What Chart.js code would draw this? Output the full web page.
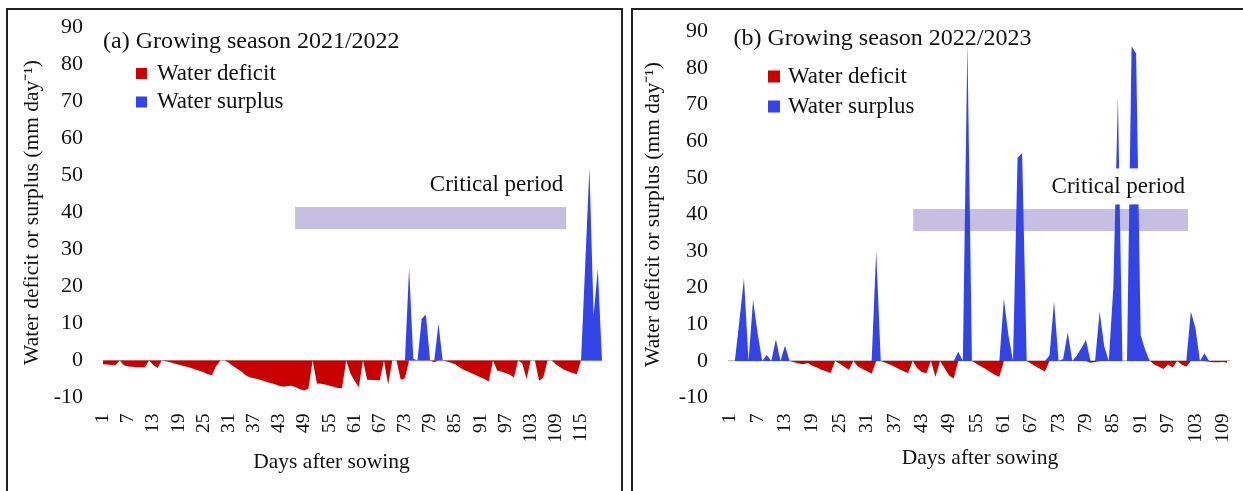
<!DOCTYPE html>
<html>
<head>
<meta charset="utf-8">
<script src="https://cdn.jsdelivr.net/npm/chart.js@4.4.0/dist/chart.umd.min.js"></script>
<style>
body { margin:0; background:#fff; width:1243px; height:491px; overflow:hidden; position:relative; }
canvas { position:absolute; top:0; }
#chartA { left:0; }
#chartB { left:630px; }
.frame { position:absolute; top:8px; height:500px; border-top:2px solid #222; border-left:2px solid #222; }
#frameA { left:6px; width:613px; border-right:2px solid #222; }
#frameB { left:631px; width:620px; }
</style>
</head>
<body>
<div class="frame" id="frameA"></div>
<div class="frame" id="frameB"></div>
<canvas id="chartA" width="622" height="491"></canvas>
<canvas id="chartB" width="613" height="491"></canvas>
<script>
// (a) 2021/2022 - daily values, day 1..120
const deficitA = [
  -1.0, -1.1, -1.2, -1.2, 0, -1.3, -1.6, -1.7, -1.8, -1.8,
  -1.8, 0, -1.2, -2.0, 0, -0.2, -0.5, -0.8, -1.1, -1.4,
  -1.7, -2.0, -2.4, -2.8, -3.2, -3.7, -3.9, -1.5, 0, 0,
  -0.6, -1.5, -2.2, -3.0, -4.0, -4.5, -4.8, -5.1, -5.4, -5.8,
  -6.1, -6.4, -6.8, -7.1, -6.9, -6.8, -7.2, -7.8, -8.1, -7.6,
  0, -6.2, -6.3, -6.5, -6.8, -7.1, -7.4, -7.4, 0, -3.5,
  -5.5, -7.2, 0, -5.2, -5.3, -5.3, -5.4, 0, -6.5, 0,
  0, -5.2, -4.8, 0, 0, 0, 0, 0, 0, -0.5,
  0, 0, -0.3, -0.6, -1.0, -1.8, -2.5, -3.0, -3.5, -4.0,
  -4.5, -5.0, -5.7, 0, -2.7, -3.0, -3.4, -3.8, -4.6, 0,
  -0.8, -5.0, 0, 0, -5.5, -4.6, 0, 0, -1.0, -1.8,
  -2.5, -3.0, -3.4, -3.7, 0, 0, 0, 0, 0, 0
];
const surplusA = [
  0, 0, 0, 0, 0, 0, 0, 0, 0, 0,
  0, 0, 0, 0, 0, 0, 0, 0, 0, 0,
  0, 0, 0, 0, 0, 0, 0, 0, 0, 0,
  0, 0, 0, 0, 0, 0, 0, 0, 0, 0,
  0, 0, 0, 0, 0, 0, 0, 0, 0, 0,
  0, 0, 0, 0, 0, 0, 0, 0, 0, 0,
  0, 0, 0, 0, 0, 0, 0, 0, 0, 0,
  0, 0, 0, 25, 0.5, 0, 11.3, 12.4, 0, 0,
  10, 0, 0, 0, 0, 0, 0, 0, 0, 0,
  0, 0, 0, 0, 0, 0, 0, 0, 0, 0,
  0, 0, 0, 0, 0, 0, 0, 0, 0, 0,
  0, 0, 0, 0, 0, 26, 52, 12.2, 24.8, 0
];

// (b) 2022/2023 - daily values, day 1..110
const deficitB = [
  0, 0, 0, 0, 0, 0, 0, 0, 0, 0,
  0, 0, 0, 0, -0.4, -0.7, -0.9, -0.6, -1.3, -1.8,
  -2.4, -2.8, -3.3, 0, -0.8, -1.6, -2.4, 0, -1.5, -2.2,
  -2.8, -3.5, 0, 0, -0.5, -1.0, -1.6, -2.2, -2.8, -3.3,
  0, -2.0, -3.0, -3.4, 0, -4.3, 0, -2.0, -4.0, -4.8,
  0, 0, 0, 0, -0.8, -1.5, -2.2, -3.0, -3.8, -4.3,
  0, 0, 0, 0, 0, 0, -0.8, -1.5, -2.2, -2.9,
  0, 0, 0, 0, 0, 0, 0, 0, 0, -0.5,
  -0.3, 0, 0, 0, 0, 0, 0, 0, 0, 0,
  0, 0, 0, -1.0, -1.6, -2.2, -1.0, -1.8, 0, -1.0,
  -1.6, 0, 0, 0, 0, -0.2, -0.4, -0.4, -0.3, -0.5
];
const surplusB = [
  0, 0, 11, 22.6, 0, 16.7, 7.5, 0, 1.6, 0,
  5.9, 0, 4.2, 0, 0, 0, 0, 0, 0, 0,
  0, 0, 0, 0, 0, 0, 0, 0, 0, 0,
  0, 0, 30, 0, 0, 0, 0, 0, 0, 0,
  0, 0, 0, 0, 0, 0, 0, 0, 0, 0,
  2.5, 0, 87, 0, 0, 0, 0, 0, 0, 0,
  17, 7, 0, 55.5, 56.8, 0, 0, 0, 0, 0,
  1.5, 16.2, 0, 0.5, 7.8, 0, 1.5, 3.5, 5.7, 0,
  0, 13.5, 4, 0, 20, 72, 0, 0, 86, 84,
  7, 3, 0, 0, 0, 0, 0, 0, 0, 0,
  0, 13.5, 9, 0, 2.1, 0, 0, 0, 0, 0
];

const tickDaysA = [1, 7, 13, 19, 25, 31, 37, 43, 49, 55, 61, 67, 73, 79, 85, 91, 97, 103, 109, 115];
const tickDaysB = [1, 7, 13, 19, 25, 31, 37, 43, 49, 55, 61, 67, 73, 79, 85, 91, 97, 103, 109];
const yTicks = [-10, 0, 10, 20, 30, 40, 50, 60, 70, 80, 90];

// critical period (days) and its band height (mm/day)
const critA = [46.8, 111.5];
const critB = [41.1, 101.4];
const critBand = [35.5, 41.5];
const critLabelY = 47.4;

const RED = '#c80000';
const BLUE = '#3344e6';
const LAVENDER = '#c6bfe2';
const SERIF = "'Liberation Serif', 'Times New Roman', serif";

Chart.defaults.font.family = SERIF;
Chart.defaults.color = '#111';

function toPoints(values) {
  return values.map((v, i) => ({ x: i + 1, y: v }));
}

function textPlugin(p) {
  return {
    id: 'panelText',
    afterDatasetsDraw(chart) {
      const ctx = chart.ctx;
      const xs = chart.scales.x, ys = chart.scales.y;
      ctx.save();
      ctx.textBaseline = 'middle';

      // critical period label with white backing box
      ctx.font = '23px ' + SERIF;
      const label = 'Critical period';
      const w = ctx.measureText(label).width;
      const cx = xs.getPixelForValue(p.crit[1]) - 3;
      const cy = ys.getPixelForValue(critLabelY);
      ctx.fillStyle = '#fff';
      ctx.fillRect(cx - w - 5, cy - 19, w + 10, 36);
      ctx.fillStyle = '#111';
      ctx.textAlign = 'right';
      ctx.fillText(label, cx, cy);

      // panel title
      ctx.textAlign = 'left';
      ctx.font = '24px ' + SERIF;
      ctx.fillText(p.title, p.titleX, p.titleY);

      // legend
      ctx.font = '23px ' + SERIF;
      [['Water deficit', RED], ['Water surplus', BLUE]].forEach((item, i) => {
        const ly = p.legendY[i];
        ctx.fillStyle = item[1];
        ctx.fillRect(p.legendX, ly - p.box / 2, p.box, p.box);
        ctx.fillStyle = '#111';
        ctx.fillText(item[0], p.legendX + p.box + p.gap, ly);
      });

      // x axis title
      ctx.textAlign = 'center';
      ctx.font = '21.5px ' + SERIF;
      ctx.fillText('Days after sowing', p.xTitleX, p.xTitleY);
      ctx.restore();
    }
  };
}

function makeChart(id, p) {
  new Chart(document.getElementById(id), {
    type: 'line',
    data: {
      datasets: [
        { label: 'Water deficit', data: toPoints(p.deficit), backgroundColor: RED, fill: 'origin' },
        { label: 'Water surplus', data: toPoints(p.surplus), backgroundColor: BLUE, fill: 'origin' },
        { label: 'crit-low', data: p.crit.map(d => ({ x: d, y: critBand[0] })), backgroundColor: 'transparent', fill: false },
        { label: 'Critical period', data: p.crit.map(d => ({ x: d, y: critBand[1] })), backgroundColor: LAVENDER, fill: '-1' }
      ]
    },
    options: {
      responsive: false,
      animation: false,
      layout: { padding: { left: 0, right: p.padRight, top: p.padTop, bottom: 0 } },
      elements: {
        line: { borderWidth: 0, borderColor: 'transparent', tension: 0 },
        point: { radius: 0, hoverRadius: 0 }
      },
      plugins: { legend: { display: false }, tooltip: { enabled: false } },
      scales: {
        x: {
          type: 'linear',
          min: p.xMin,
          max: p.xMax,
          afterBuildTicks: s => { s.ticks = p.ticks.map(v => ({ value: v })); },
          afterFit: s => { s.height = p.xHeight; s.paddingLeft = 0; s.paddingRight = 0; },
          grid: { display: false },
          border: { display: false },
          ticks: { autoSkip: false, minRotation: 90, maxRotation: 90, padding: 8, font: { size: 19.5 } }
        },
        y: {
          min: -10,
          max: 90,
          afterBuildTicks: s => { s.ticks = yTicks.map(v => ({ value: v })); },
          afterFit: s => { s.width = p.yWidth; s.paddingTop = 0; s.paddingBottom = 0; },
          grid: {
            drawTicks: false,
            color: c => (c.tick && c.tick.value === 0 ? '#bdbdbd' : 'transparent'),
            lineWidth: 1.2
          },
          border: { display: false },
          ticks: { padding: 20, font: { size: 22 } },
          title: {
            display: true,
            text: 'Water deficit or surplus (mm day\u207B\u00B9)',
            font: { size: 21.5 },
            padding: { top: p.yTitlePad, bottom: 0 }
          }
        }
      }
    },
    plugins: [textPlugin(p)]
  });
}

makeChart('chartA', {
  deficit: deficitA, surplus: surplusA, ticks: tickDaysA, crit: critA,
  xMin: 1, xMax: 120, padRight: 20, padTop: 27.5, xHeight: 93.5, yWidth: 103, yTitlePad: 19,
  title: '(a) Growing season 2021/2022', titleX: 103, titleY: 42,
  legendX: 136, legendY: [73.5, 102], box: 11, gap: 10,
  xTitleX: 331.5, xTitleY: 462
});

makeChart('chartB', {
  deficit: deficitB, surplus: surplusB, ticks: tickDaysB, crit: critB,
  xMin: 0.5, xMax: 110.5, padRight: 13.4, padTop: 31.5, xHeight: 93.5, yWidth: 98, yTitlePad: 10.5,
  title: '(b) Growing season 2022/2023', titleX: 103.5, titleY: 38.5,
  legendX: 138, legendY: [76.5, 106.5], box: 12, gap: 8,
  xTitleX: 350, xTitleY: 458.5
});
</script>
</body>
</html>
